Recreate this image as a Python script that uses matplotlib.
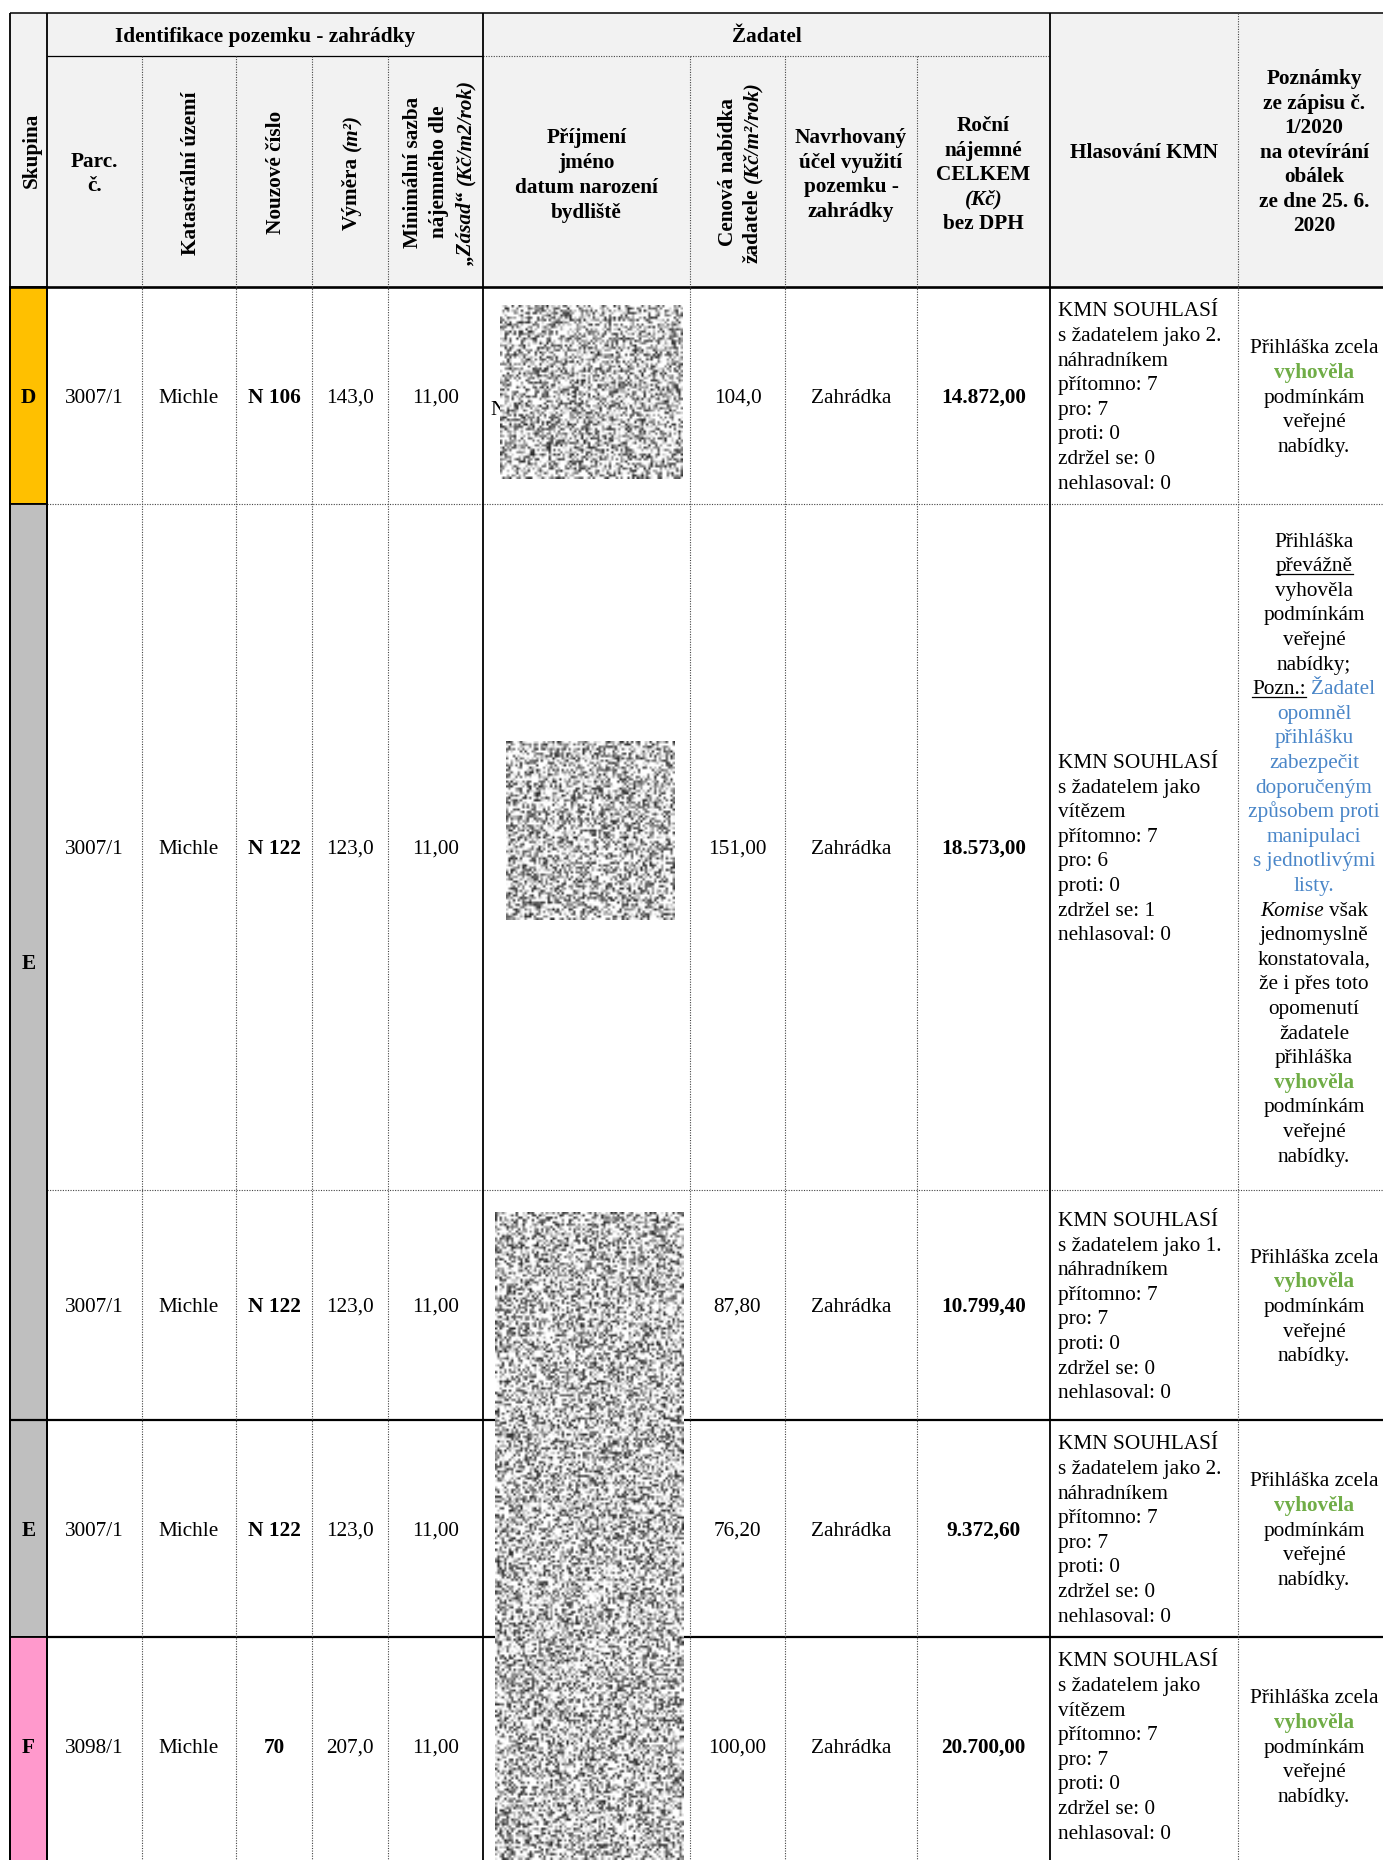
import matplotlib
matplotlib.use('Agg')
import matplotlib.pyplot as plt
from matplotlib.patches import Rectangle
import numpy as np

# ---------------- data ----------------
skupina = ['D', 'E', 'E', 'F']          # E spans rows 1-2 (merged cell)
parc = ['3007/1', '3007/1', '3007/1', '3007/1', '3098/1']
katastr = ['Michle', 'Michle', 'Michle', 'Michle', 'Michle']
nouzove = ['N 106', 'N 122', 'N 122', 'N 122', '70']
vymera = ['143,0', '123,0', '123,0', '123,0', '207,0']
min_sazba = ['11,00', '11,00', '11,00', '11,00', '11,00']
cenova = ['104,0', '151,00', '87,80', '76,20', '100,00']
ucel = ['Zahrádka', 'Zahrádka', 'Zahrádka', 'Zahrádka', 'Zahrádka']
rocni = ['14.872,00', '18.573,00', '10.799,40', '9.372,60', '20.700,00']
hlas_l2 = ['s žadatelem jako 2.', 's žadatelem jako', 's žadatelem jako 1.',
           's žadatelem jako 2.', 's žadatelem jako']
hlas_l3 = ['náhradníkem', 'vítězem', 'náhradníkem', 'náhradníkem', 'vítězem']
pritomno = [7, 7, 7, 7, 7]
pro = [7, 6, 7, 7, 7]
proti = [0, 0, 0, 0, 0]
zdrzel = [0, 1, 0, 0, 0]
nehlasoval = [0, 0, 0, 0, 0]

# ---------------- layout ----------------
W, H = 1383, 1860
FS = 15.3
EM = FS * 100 / 72
FONT = 'Liberation Serif'
GREEN = '#70ad47'
BLUE = '#4a86c8'
HEAD_BG = '#f2f2f2'
SK_COL = {'D': '#ffc000', 'E': '#bfbfbf', 'F': '#ff99cc'}

xs = [10, 47, 142, 236, 312, 388, 483, 690, 785, 917, 1050, 1238, 1390]
TOP, HMID, HBOT = 13, 56, 287
row_y = [287, 504, 1190, 1420, 1637, 1854]

fig = plt.figure(figsize=(W / 100, H / 100), dpi=100)
fig.patch.set_facecolor('white')
ax = fig.add_axes([0, 0, 1, 1])
ax.set_xlim(0, W)
ax.set_ylim(H, 0)
ax.axis('off')
renderer = fig.canvas.get_renderer()

STYLES = {
    'r': dict(color='black'),
    'b': dict(color='black', fontweight='bold'),
    'i': dict(color='black', fontstyle='italic'),
    'bi': dict(color='black', fontweight='bold', fontstyle='italic'),
    'g': dict(color=GREEN, fontweight='bold'),
    'blue': dict(color=BLUE),
    'u': dict(color='black'),
}
SPACE = 0.25 * EM
_cache = {}


def measure(text, st):
    key = (text, st)
    if key not in _cache:
        t = ax.text(0, 0, text, fontsize=FS, family=FONT, **STYLES[st])
        _cache[key] = t.get_window_extent(renderer).width
        t.remove()
    return _cache[key]


def draw_line(segs, x, yc, align='center', rot=False, default='r'):
    if isinstance(segs, str):
        segs = [(segs, default)]
    items = []
    for text, st in segs:
        lead = len(text) - len(text.lstrip(' '))
        items.append((text.strip(' '), st, lead * SPACE))
    widths = [measure(t, st) for t, st, g in items]
    total = sum(widths) + sum(g for _, _, g in items)
    if not rot:
        cur = x - total / 2 if align == 'center' else x
        base = yc + 0.33 * EM
        for (t, st, g), w in zip(items, widths):
            cur += g
            ax.text(cur, base, t, ha='left', va='baseline', fontsize=FS,
                    family=FONT, zorder=4, **STYLES[st])
            if st == 'u':
                ax.plot([cur, cur + w], [base + 2.5, base + 2.5], color='black',
                        lw=0.9, zorder=4)
            cur += w
    else:
        cur = yc + total / 2
        base = x + 0.33 * EM
        for (t, st, g), w in zip(items, widths):
            cur -= g
            ax.text(base, cur, t, rotation=90, rotation_mode='anchor', ha='left',
                    va='baseline', fontsize=FS, family=FONT, zorder=4, **STYLES[st])
            cur -= w


def draw_block(lines, x, yc, spacing, align='center', rot=False, default='r'):
    n = len(lines)
    for i, ln in enumerate(lines):
        off = (i - (n - 1) / 2) * spacing
        if rot:
            draw_line(ln, x + off, yc, align, rot=True, default=default)
        else:
            draw_line(ln, x, yc + off, align, default=default)


def hline(y, x0, x1, dotted=False, lw=1.0):
    if dotted:
        ax.plot([x0, x1], [y, y], color='#444444', lw=0.8, ls=(0, (1, 1.3)), zorder=3)
    else:
        ax.plot([x0, x1], [y, y], color='black', lw=lw, solid_capstyle='butt', zorder=3)


def vline(x, y0, y1, dotted=False, lw=1.0):
    if dotted:
        ax.plot([x, x], [y0, y1], color='#444444', lw=0.8, ls=(0, (1, 1.3)), zorder=3)
    else:
        ax.plot([x, x], [y0, y1], color='black', lw=lw, solid_capstyle='butt', zorder=3)


tex_rng = np.random.default_rng(11)   # texture of the redaction patches only


def redaction(x0, y0, x1, y1):
    cell = 2.3
    nx, ny = int((x1 - x0) / cell), int((y1 - y0) / cell)
    u = tex_rng.random((ny, nx))
    g = np.clip(1.5 - 1.35 * u, 0.14, 1.0)
    ax.imshow(g, cmap='gray', vmin=0, vmax=1, extent=(x0, x1, y1, y0),
              interpolation='bilinear', aspect='auto', zorder=6)


# ---------------- backgrounds ----------------
ax.add_patch(Rectangle((xs[0], TOP), W - xs[0], HBOT - TOP, facecolor=HEAD_BG,
                       edgecolor='none', zorder=1))
sk_spans = [(row_y[0], row_y[1]), (row_y[1], row_y[3]), (row_y[3], row_y[4]),
            (row_y[4], H + 10)]
for lab, (y0, y1) in zip(skupina, sk_spans):
    ax.add_patch(Rectangle((xs[0], y0), xs[1] - xs[0], y1 - y0,
                           facecolor=SK_COL[lab], edgecolor='black', lw=1.3, zorder=2))
    yc = (y0 + min(y1, row_y[5])) / 2
    draw_line([(lab, 'b')], (xs[0] + xs[1]) / 2, yc)

# ---------------- grid lines ----------------
hline(TOP, xs[0], W, lw=1.1)
hline(HMID, xs[1], xs[6], lw=0.9)
hline(HMID, xs[6], xs[10], dotted=True)
hline(HBOT, xs[0], W, lw=1.9)
hline(row_y[1], xs[1], W, dotted=True)
hline(row_y[2], xs[1], W, dotted=True)
hline(row_y[3], xs[0], W, lw=1.6)
hline(row_y[4], xs[1], W, lw=1.6)

for xi in (0, 1, 6, 10):
    vline(xs[xi], TOP, H, lw=1.3)
for xi in (2, 3, 4, 5, 7, 8, 9):
    vline(xs[xi], HMID, H, dotted=True)
vline(xs[11], TOP, H, dotted=True)

# ---------------- header ----------------
SP = 24.5
draw_line([('Skupina', 'b')], 30, 150, rot=True)
draw_line([('Identifikace pozemku - zahrádky', 'b')], (xs[1] + xs[6]) / 2, 34.5)
draw_line([('Žadatel', 'b')], (xs[6] + xs[10]) / 2, 34.5)
draw_block(['Parc.', 'č.'], (xs[1] + xs[2]) / 2, 172, 24, default='b')
draw_line([('Katastrální území', 'b')], 189, 173, rot=True)
draw_line([('Nouzové číslo', 'b')], 274, 172, rot=True)
draw_line([('Výměra', 'b'), (' (m²)', 'bi')], 350, 172, rot=True)
draw_block(['Minimální sazba', 'nájemného dle', [('„Zásad“', 'bi'), (' (Kč/m2/rok)', 'bi')]],
           437, 172, 26.5, rot=True, default='b')
draw_block(['Příjmení', 'jméno', 'datum narození', 'bydliště'],
           (xs[6] + xs[7]) / 2, 173, 25, default='b')
draw_block(['Cenová nabídka', [('žadatele', 'b'), (' (Kč/m²/rok)', 'bi')]],
           738, 172, 24.5, rot=True, default='b')
draw_block(['Navrhovaný', 'účel využití', 'pozemku -', 'zahrádky'],
           (xs[8] + xs[9]) / 2, 173, SP, default='b')
draw_block(['Roční', 'nájemné', 'CELKEM', [('(Kč)', 'bi')], 'bez DPH'],
           (xs[9] + xs[10]) / 2, 173, SP, default='b')
draw_line([('Hlasování KMN', 'b')], (xs[10] + xs[11]) / 2, 150.5)
draw_block(['Poznámky', 'ze zápisu č.', '1/2020', 'na otevírání', 'obálek',
            'ze dne 25. 6.', '2020'], 1314, 150.5, SP, default='b')

# ---------------- body ----------------
BSP = 24.6
for i in range(5):
    yc = (row_y[i] + row_y[i + 1]) / 2
    draw_line(parc[i], (xs[1] + xs[2]) / 2, yc)
    draw_line(katastr[i], (xs[2] + xs[3]) / 2, yc)
    draw_line([(nouzove[i], 'b')], (xs[3] + xs[4]) / 2, yc)
    draw_line(vymera[i], (xs[4] + xs[5]) / 2, yc)
    draw_line(min_sazba[i], (xs[5] + xs[6]) / 2, yc)
    draw_line(cenova[i], (xs[7] + xs[8]) / 2, yc)
    draw_line(ucel[i], (xs[8] + xs[9]) / 2, yc)
    draw_line([(rocni[i], 'b')], (xs[9] + xs[10]) / 2, yc)
    hl = ['KMN SOUHLASÍ', hlas_l2[i], hlas_l3[i], f'přítomno: {pritomno[i]}',
          f'pro: {pro[i]}', f'proti: {proti[i]}', f'zdržel se: {zdrzel[i]}',
          f'nehlasoval: {nehlasoval[i]}']
    draw_block(hl, 1058, yc, BSP, align='left')
    if i != 1:
        draw_block(['Přihláška zcela', [('vyhověla', 'g')], 'podmínkám', 'veřejné',
                    'nabídky.'], 1314, yc, 24.7)

pozn_e1 = [
    'Přihláška',
    [('převážně', 'u')],
    'vyhověla',
    'podmínkám',
    'veřejné',
    'nabídky;',
    [('Pozn.:', 'u'), (' Žadatel', 'blue')],
    [('opomněl', 'blue')],
    [('přihlášku', 'blue')],
    [('zabezpečit', 'blue')],
    [('doporučeným', 'blue')],
    [('způsobem proti', 'blue')],
    [('manipulaci', 'blue')],
    [('s jednotlivými', 'blue')],
    [('listy.', 'blue')],
    [('Komise', 'i'), (' však', 'r')],
    'jednomyslně',
    'konstatovala,',
    'že i přes toto',
    'opomenutí',
    'žadatele',
    'přihláška',
    [('vyhověla', 'g')],
    'podmínkám',
    'veřejné',
    'nabídky.',
]
draw_block(pozn_e1, 1314, (row_y[1] + row_y[2]) / 2, BSP)

# text partly hidden under the first redaction patch
ax.text(490, 408 + 0.33 * EM, 'N', ha='left', va='baseline', fontsize=FS,
        family=FONT, zorder=4)

# redaction patches over the applicant column
redaction(500, 306, 683, 479)
redaction(506, 741, 675, 920)
redaction(495, 1212, 684, 1860)

ax.set_xlim(0, W)
ax.set_ylim(H, 0)
fig.savefig('out.png', dpi=100, facecolor='white')
